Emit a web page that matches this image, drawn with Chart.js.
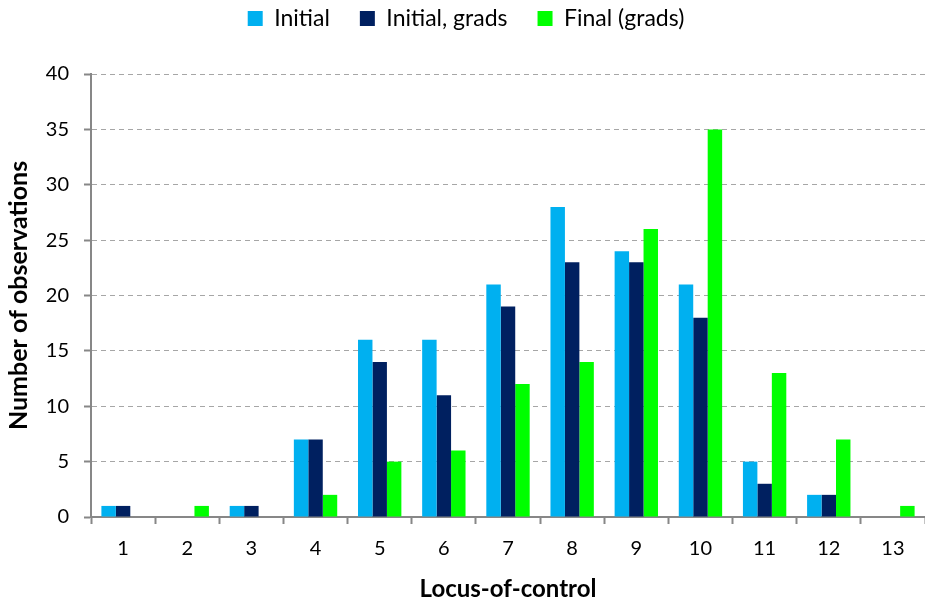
<!DOCTYPE html>
<html>
<head>
<meta charset="utf-8">
<script src="https://cdn.jsdelivr.net/npm/chart.js@4/dist/chart.umd.min.js"></script>
<style>
  html, body { margin: 0; padding: 0; background: #ffffff; }
  #wrap { width: 925px; height: 600px; }
</style>
</head>
<body>
<div id="wrap"><canvas id="c" width="925" height="600"></canvas></div>
<script>
const categories = ['1', '2', '3', '4', '5', '6', '7', '8', '9', '10', '11', '12', '13'];
const initial = [1, 0, 1, 7, 16, 16, 21, 28, 24, 21, 5, 2, 0];
const initialGrads = [1, 0, 1, 7, 14, 11, 19, 23, 23, 18, 3, 2, 0];
const finalGrads = [0, 1, 0, 2, 5, 6, 12, 14, 26, 35, 13, 7, 1];
const yTicks = [0, 5, 10, 15, 20, 25, 30, 35, 40];

const FONT = "Lato, 'Open Sans', sans-serif";
const AXIS_GREY = '#878787';

// Give the legend box extra room below its single row of items,
// so the plot starts lower while the legend text stays near the top.
const legendSpacer = {
  id: 'legendSpacer',
  beforeLayout(chart) {
    const lg = chart.legend;
    if (lg && !lg._spaced) {
      const fit = lg.fit.bind(lg);
      lg.fit = function () { fit(); this.height += 34; };
      lg._spaced = true;
    }
  }
};

new Chart(document.getElementById('c'), {
  type: 'bar',
  data: {
    labels: categories,
    datasets: [
      { label: 'Initial', data: initial, backgroundColor: '#00B0F0' },
      { label: 'Initial, grads', data: initialGrads, backgroundColor: '#002060' },
      { label: 'Final (grads)', data: finalGrads, backgroundColor: '#00FF00' }
    ]
  },
  plugins: [legendSpacer],
  options: {
    responsive: false,
    animation: false,
    devicePixelRatio: 1,
    layout: { padding: { top: -23, right: -7, left: 0, bottom: -4 } },
    datasets: { bar: { barPercentage: 1.0, categoryPercentage: 0.676 } },
    plugins: {
      tooltip: { enabled: false },
      legend: {
        position: 'top',
        labels: {
          font: { family: FONT, size: 23 },
          color: '#000000',
          boxWidth: 15,
          boxHeight: 15,
          padding: 30
        }
      }
    },
    scales: {
      x: {
        grid: {
          offset: true,
          drawOnChartArea: false,
          drawTicks: true,
          tickLength: 7,
          color: AXIS_GREY,
          tickWidth: 2
        },
        border: { display: true, color: AXIS_GREY, width: 2 },
        ticks: { font: { family: FONT, size: 20 }, color: '#000000', padding: 13 },
        title: {
          display: true,
          text: 'Locus-of-control',
          font: { family: FONT, size: 24, weight: 'bold' },
          color: '#000000',
          padding: { top: 8, bottom: 0 }
        },
        afterFit: (scale) => { scale.height = 87; }
      },
      y: {
        min: 0,
        max: 40,
        afterBuildTicks: (scale) => { scale.ticks = yTicks.map(v => ({ value: v })); },
        grid: {
          color: '#a6a6a6',
          lineWidth: 1,
          tickLength: 7,
          tickColor: AXIS_GREY,
          tickWidth: 2,
          tickBorderDash: []
        },
        border: { display: true, color: AXIS_GREY, width: 2, dash: [5, 4] },
        ticks: { font: { family: FONT, size: 20 }, color: '#000000', padding: 15 },
        title: {
          display: true,
          text: 'Number of observations',
          font: { family: FONT, size: 25, weight: 'bold' },
          color: '#000000',
          padding: { top: 4, bottom: 4 }
        },
        afterFit: (scale) => { scale.width = 91; }
      }
    }
  }
});
</script>
</body>
</html>
